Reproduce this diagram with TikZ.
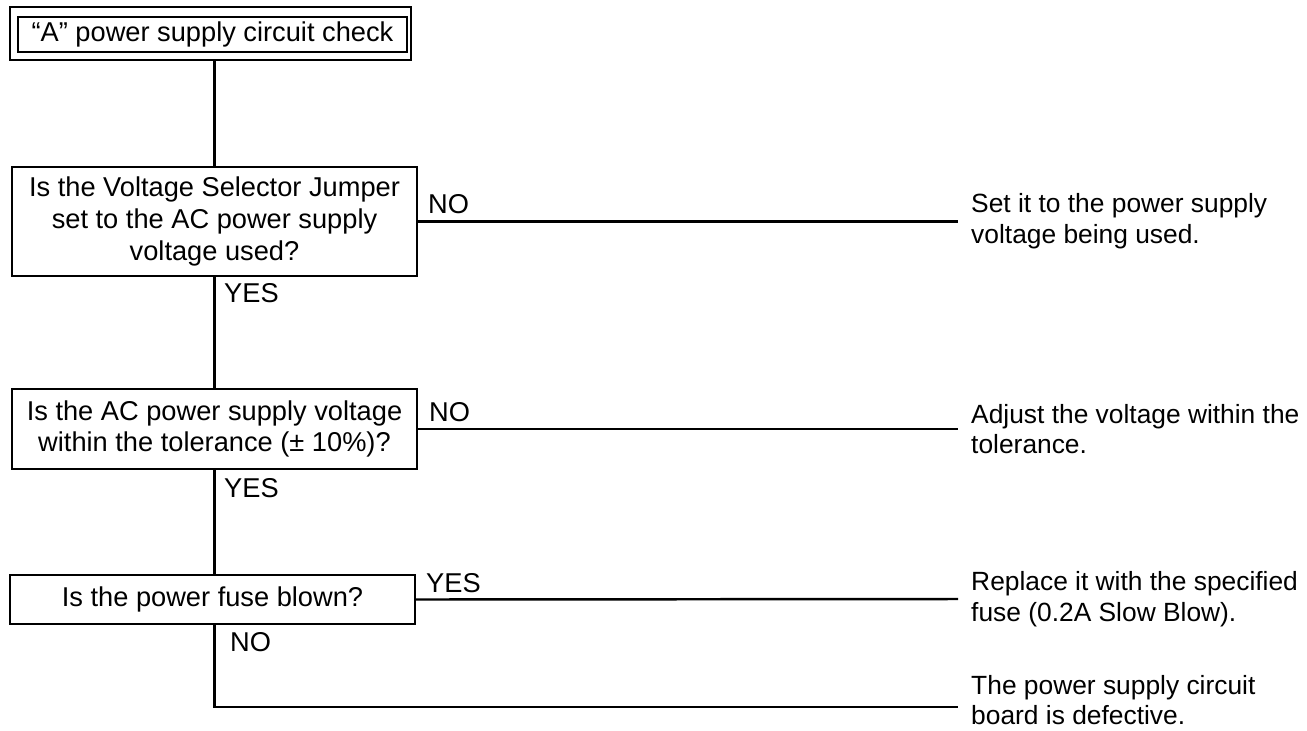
\documentclass[tikz,border=0pt]{standalone}
\usepackage{fontspec}
\setmainfont{Liberation Sans}
\usetikzlibrary{calc,positioning}

\begin{document}
\begin{tikzpicture}[x=0.02cm,y=-0.02cm,line width=1.4pt,
  every node/.style={font=\fontsize{15.5}{18}\selectfont},
  qbox/.style={draw,minimum width=8.1cm,align=center,inner sep=0pt},
  ansbox/.style={anchor=west,align=left,inner xsep=0.24cm,inner ysep=0pt,font=\fontsize{15}{17.5}\selectfont},
  lbl/.style={anchor=west,inner sep=0pt}]
\useasboundingbox (0,0) rectangle (1307,730);
% title
\node[draw,line width=0.7pt,minimum width=8.02cm,minimum height=1.06cm] (frame) at (210.5,33.5) {};
\node[draw,line width=0.7pt,minimum width=7.78cm,minimum height=0.7cm,inner sep=0pt] (title) at (212.5,34.5) {“A” power supply circuit check};
% questions
\node[qbox,minimum height=2.18cm] (q1) at (214.5,221.5) {Is the Voltage Selector Jumper\\set to the AC power supply\\voltage used?};
\node[qbox,minimum height=1.6cm] (q2) at (214.5,429) {Is the AC power supply voltage\\within the tolerance (± 10\%)?};
\node[qbox,minimum height=0.98cm] (q3) at (212.5,599.5) {Is the power fuse blown?};
% answers
\node[ansbox] (a1) at (958,221.5) {Set it to the power supply\\voltage being used.};
\node[ansbox] (a2) at (958,429) {Adjust the voltage within the\\tolerance.};
\node[ansbox] (a3) at (958,599) {Replace it with the specified\\fuse (0.2A Slow Blow).};
\node[ansbox] (a4) at (958,700) {The power supply circuit\\board is defective.};
% labels
\node[lbl] (no1) at (427,204) {NO};
\node[lbl] (yes1) at (223,293) {YES};
\node[lbl] (no2) at (428,412) {NO};
\node[lbl] (yes2) at (223,488) {YES};
\node[lbl] (yes3) at (425,583) {YES};
\node[lbl] (no3) at (229,642) {NO};
% lines
\draw (frame.south -| q1.north) -- (q1.north);
\draw (q1.south) -- (q2.north);
\draw (q2.south) -- (q2.south |- q3.north);
\draw (q1.east) -- (a1.west);
\draw (q2.east) -- (a2.west);
\draw (q3.east) -- (a3.west);
\draw (q3.south -| q1.south) |- ([yshift=-0.14cm]a4.west);
\end{tikzpicture}
\end{document}
